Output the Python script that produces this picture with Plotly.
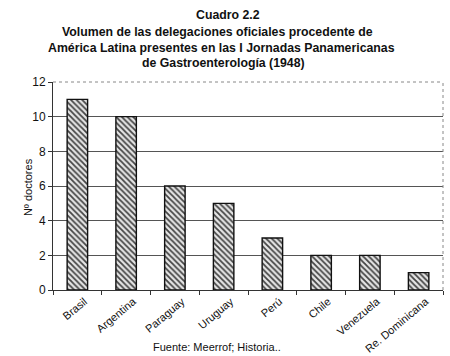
import plotly.graph_objects as go

countries = ["Brasil", "Argentina", "Paraguay", "Uruguay", "Perú", "Chile", "Venezuela", "Re. Dominicana"]
doctors = [11, 10, 6, 5, 3, 2, 2, 1]
y_ticks = [0, 2, 4, 6, 8, 10, 12]

title_lines = [
    "Cuadro 2.2",
    "Volumen de las delegaciones oficiales procedente de",
    "América Latina presentes en las I Jornadas Panamericanas",
    "de Gastroenterología (1948)",
]
title_x = [0.449, 0.423, 0.431, 0.436]
title_y = [1.322, 1.240, 1.163, 1.090]

fig = go.Figure()
fig.add_trace(go.Bar(
    x=countries, y=doctors, width=0.42,
    marker=dict(
        color="white",
        line=dict(color="#111", width=1.4),
        pattern=dict(shape="\\", fgcolor="#444", bgcolor="#e6e6e6", size=4, solidity=0.45, fillmode="replace"),
    ),
    showlegend=False, hoverinfo="x+y",
))

annotations = [
    dict(text="<b>%s</b>" % t, xref="paper", yref="paper", x=xx, y=yy,
         xanchor="center", yanchor="middle", showarrow=False,
         font=dict(size=12.3, color="#111"))
    for t, xx, yy in zip(title_lines, title_x, title_y)
]
annotations.append(
    dict(text="Fuente: Meerrof; Historia..", xref="paper", yref="paper",
         x=0.42, y=-0.274, xanchor="center", yanchor="middle", showarrow=False,
         font=dict(size=11))
)
annotations.append(
    dict(text="Nº doctores", xref="paper", yref="paper",
         x=-0.064, y=0.495, xanchor="center", yanchor="middle", showarrow=False,
         textangle=-90, font=dict(size=11))
)

fig.update_layout(
    width=450, height=356,
    margin=dict(l=53, r=7, t=82, b=66),
    paper_bgcolor="white", plot_bgcolor="white",
    font=dict(family="Liberation Sans, Arial, sans-serif", color="#111", size=11),
    xaxis=dict(
        showline=True, linecolor="#333", linewidth=1,
        ticks="outside", ticklen=4, tickcolor="#333",
        tickson="boundaries", tickangle=-40, ticklabelshift=7,
        tickfont=dict(size=11), automargin=False,
    ),
    yaxis=dict(
        range=[0, 12], tickvals=y_ticks,
        showline=True, linecolor="#333", linewidth=1,
        ticks="outside", ticklen=4, tickcolor="#333",
        gridcolor="#555", gridwidth=1,
        tickfont=dict(size=12), automargin=False,
    ),
    shapes=[
        dict(type="line", xref="paper", yref="paper", x0=0, x1=1, y0=1, y1=1,
             line=dict(color="#888", width=1, dash="dot")),
        dict(type="line", xref="paper", yref="paper", x0=1, x1=1, y0=0, y1=1,
             line=dict(color="#888", width=1, dash="dot")),
    ],
    annotations=annotations,
)

fig.write_html("out.html", config={"displayModeBar": False},
               post_script="document.body.style.margin='0';document.body.style.overflow='hidden';")
